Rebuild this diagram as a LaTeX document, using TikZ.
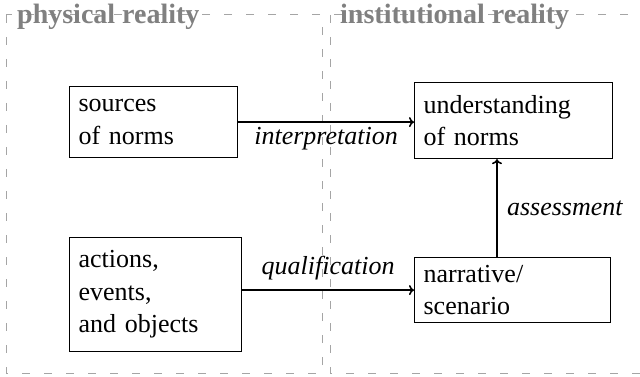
\documentclass[tikz,border=0pt]{standalone}
\usepackage{fontspec}
\setmainfont{Liberation Serif}
\usetikzlibrary{arrows.meta}
\definecolor{tgray}{RGB}{128,128,128}
\definecolor{fgray}{RGB}{165,165,165}
\begin{document}
\begin{tikzpicture}[x=1pt,y=-1pt,
  every node/.style={font=\fontsize{26}{32.5}\selectfont},
  box/.style={draw, line width=1.2pt, anchor=north west, align=left, inner xsep=9pt, inner ysep=0pt},
  frame/.style={draw=fgray, line width=1pt, dash pattern=on 8pt off 14pt},
  regtitle/.style={text=tgray, font=\fontsize{28}{34}\selectfont\bfseries, anchor=base west, inner sep=0pt},
  arr/.style={-{To[length=5pt,width=10pt]}, line width=1.5pt},
  lab/.style={font=\fontsize{26}{32.5}\selectfont\itshape}]
\useasboundingbox (0,0) rectangle (640,377);
\draw[frame] (6,15) rectangle (322,373);
\draw[frame] (330,15) rectangle (660,373);
\node[regtitle] (t1) at (17,24) {physical reality};
\node[regtitle] (t2) at (340,24) {institutional reality};
\node[box, text width=150pt, minimum height=71pt] (A) at (69,86) {sources\\of norms};
\node[box, text width=154pt, minimum height=114pt] (B) at (69,237) {actions,\\events,\\and objects};
\node[box, text width=180pt, minimum height=76pt] (C) at (414,82) {understanding\\of norms};
\node[box, text width=178pt, minimum height=65pt] (D) at (414,257) {narrative/\\scenario};
\coordinate (ax) at (497,0);
\draw[arr] (A.east) -- node[lab, below=1pt] {interpretation} (A.east -| C.west);
\draw[arr] (B.east |- D.west) -- node[lab, above=6pt] {qualification} (D.west);
\draw[arr] (D.north -| ax) -- node[lab, right=6pt] {assessment} (C.south -| ax);
\end{tikzpicture}
\end{document}
